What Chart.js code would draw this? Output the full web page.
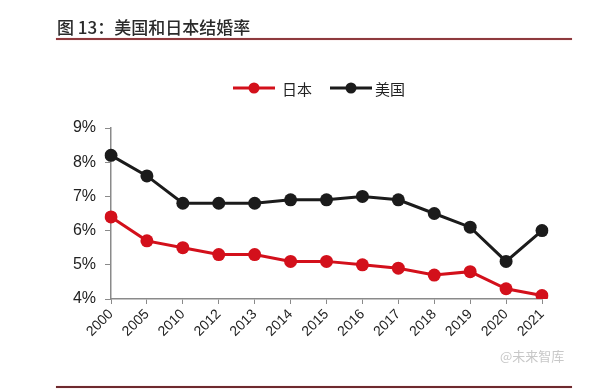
<!DOCTYPE html>
<html><head><meta charset="utf-8">
<script src="https://cdn.jsdelivr.net/npm/chart.js@4/dist/chart.umd.min.js"></script>
<style>
html,body{margin:0;padding:0;background:#fff;}
#wrap{position:relative;width:600px;height:390px;overflow:hidden;}
#title{position:absolute;left:57px;top:16px;font-family:"Noto Sans CJK SC","Liberation Sans",sans-serif;font-size:17px;font-weight:500;color:#2a2a2a;line-height:22px;}
#topline{position:absolute;left:56px;top:38px;width:516px;height:2px;background:#8e3a3e;box-shadow:0 0 1px #e08888;}
#botline{position:absolute;left:56px;top:386px;width:516px;height:2px;background:#6e2a2e;box-shadow:0 0 1px #e08888;}
#wm{position:absolute;left:500px;top:346px;font-family:"Noto Sans CJK SC",sans-serif;font-size:13px;color:#c8c8c8;}
canvas{position:absolute;left:0;top:0;}
</style></head>
<body><div id="wrap">
<canvas id="c" width="600" height="390"></canvas>
<div id="title">图 13：美国和日本结婚率</div>
<div id="topline"></div>
<div id="wm">@未来智库</div>
<div id="botline"></div>
</div>
<script>
const categories = ["2000","2005","2010","2012","2013","2014","2015","2016","2017","2018","2019","2020","2021"];
const japan = [6.4,5.7,5.5,5.3,5.3,5.1,5.1,5.0,4.9,4.7,4.8,4.3,4.1];
const usa = [8.2,7.6,6.8,6.8,6.8,6.9,6.9,7.0,6.9,6.5,6.1,5.1,6.0];
const seriesLabels = ["日本","美国"];
const yTicks = [4,5,6,7,8,9];

const RED = "#d3101b", BLACK = "#1b1b1b", AXIS = "#8a8a8a";

const legendPlugin = {
  id: "lineLegend",
  afterDraw(chart) {
    const ctx = chart.ctx;
    const items = [{x:233, tx:282}, {x:330, tx:375}];
    const y = 88;
    ctx.save();
    chart.data.datasets.forEach((ds, i) => {
      const it = items[i];
      ctx.strokeStyle = ds.borderColor;
      ctx.lineWidth = 3;
      ctx.beginPath(); ctx.moveTo(it.x, y); ctx.lineTo(it.x + 42, y); ctx.stroke();
      ctx.fillStyle = ds.borderColor;
      ctx.beginPath(); ctx.arc(it.x + 21, y, 5.5, 0, Math.PI*2); ctx.fill();
      ctx.fillStyle = "#222";
      ctx.font = '15px "Noto Sans CJK SC", sans-serif';
      ctx.textBaseline = "middle";
      ctx.fillText(ds.label, it.tx, y + 1);
    });
    ctx.restore();
  }
};

new Chart(document.getElementById("c"), {
  type: "line",
  data: {
    labels: categories,
    datasets: [
      {label: seriesLabels[0], data: japan, borderColor: RED, backgroundColor: RED, borderWidth: 3, pointRadius: 6.5, pointBorderWidth: 0, pointBackgroundColor: RED, tension: 0},
      {label: seriesLabels[1], data: usa, borderColor: BLACK, backgroundColor: BLACK, borderWidth: 3, pointRadius: 6.5, pointBorderWidth: 0, pointBackgroundColor: BLACK, tension: 0}
    ]
  },
  options: {
    responsive: false,
    animation: false,
    devicePixelRatio: 1,
    layout: {padding: {top: 128, right: 58, left: 0, bottom: 0}},
    plugins: {legend: {display: false}, tooltip: {enabled: false}},
    scales: {
      x: {
        offset: false,
        grid: {display: true, drawOnChartArea: false, drawTicks: true, tickLength: 5, color: AXIS},
        border: {color: AXIS, width: 1.5},
        ticks: {color: "#222", font: {family: "Liberation Sans, Arial, sans-serif", size: 14}, minRotation: 45, maxRotation: 45, padding: 2, autoSkip: false},
        afterFit(s) { s.height = 91; }
      },
      y: {
        min: 4, max: 9,
        afterBuildTicks(s) { s.ticks = yTicks.map(v => ({value: v})); },
        grid: {display: true, drawOnChartArea: false, drawTicks: true, tickLength: 6, color: AXIS},
        border: {color: AXIS, width: 1.5},
        ticks: {color: "#222", font: {family: "Liberation Sans, Arial, sans-serif", size: 16}, padding: 9, callback: v => v + "%"},
        afterFit(s) { s.width = 111; }
      }
    }
  },
  plugins: [legendPlugin]
});
</script>
</body></html>
